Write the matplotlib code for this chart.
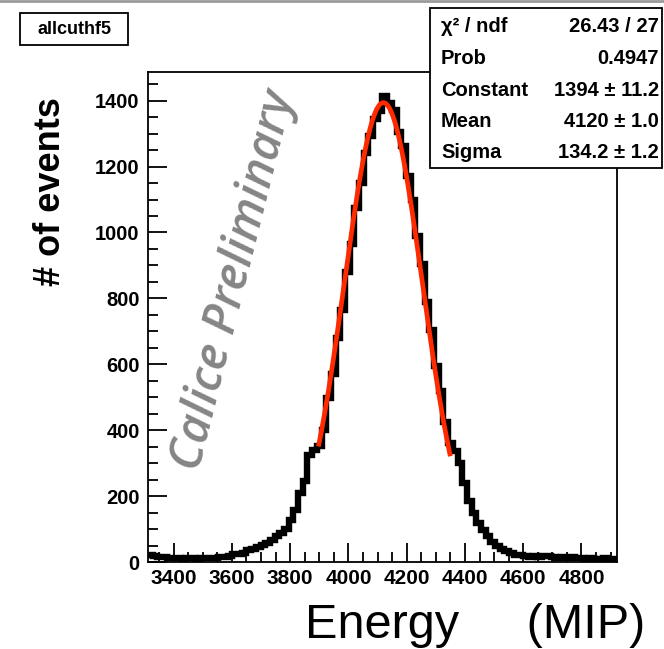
import numpy as np
import matplotlib
matplotlib.use("Agg")
import matplotlib.pyplot as plt
from matplotlib.patches import Rectangle
from matplotlib.lines import Line2D
from matplotlib.ticker import MultipleLocator

# histogram: 100 bins between x_lo and x_hi (MIP)
x_lo, x_hi = 3312, 4922
counts = [
    20, 18, 15, 14, 12, 11, 12, 10, 11, 12,
    10, 11, 12, 13, 12, 14, 15, 18, 24, 25,
    28, 36, 38, 45, 52, 58, 66, 80, 88, 100,
    128, 158, 210, 245, 325, 340, 352, 402, 498, 570,
    680, 765, 880, 965, 1075, 1150, 1240, 1292, 1345, 1368,
    1415, 1392, 1372, 1305, 1262, 1170, 1100, 990, 905, 790,
    705, 596, 518, 425, 360, 338, 300, 240, 185, 150,
    118, 98, 80, 62, 50, 38, 32, 27, 22, 20,
    18, 16, 17, 15, 18, 17, 14, 13, 15, 12,
    14, 13, 11, 10, 12, 10, 9, 11, 10, 9,
]

# gaussian fit result
fit_const, fit_mean, fit_sigma = 1394, 4120, 134.2
fit_lo, fit_hi = 3897, 4350

stat_labels = ["\u03c7\u00b2 / ndf", "Prob", "Constant", "Mean", "Sigma"]
stat_values = ["26.43 / 27", "0.4947", "1394 \u00b1 11.2", "4120 \u00b1 1.0", "134.2 \u00b1 1.2"]

hist_name = "allcuthf5"
y_max = 1487

W, H = 664, 649
fig = plt.figure(figsize=(W / 100, H / 100), dpi=100)
plt.rcParams['font.family'] = ['Liberation Sans', 'DejaVu Sans']


def fx(px):
    return px / W


def fy(py):
    return 1 - py / H


ax = fig.add_axes([fx(148), fy(562), fx(617) - fx(148), fy(72) - fy(562)])

edges = np.linspace(x_lo, x_hi, len(counts) + 1)
ax.stairs(counts, edges, color="black", lw=4.6, baseline=None)

xf = np.linspace(fit_lo, fit_hi, 300)
ax.plot(xf, fit_const * np.exp(-0.5 * ((xf - fit_mean) / fit_sigma) ** 2),
        color="#ff2a00", lw=3.4, solid_capstyle="butt")

ax.set_xlim(x_lo, x_hi)
ax.set_ylim(0, y_max)
ax.xaxis.set_major_locator(MultipleLocator(200))
ax.xaxis.set_minor_locator(MultipleLocator(50))
ax.yaxis.set_major_locator(MultipleLocator(200))
ax.yaxis.set_minor_locator(MultipleLocator(50))
ax.tick_params(which="both", direction="in", width=1.3, labelsize=14.5)
ax.tick_params(which="major", length=14)
ax.tick_params(which="minor", length=7)
ax.tick_params(axis="y", pad=6)
ax.tick_params(axis="x", pad=5, labelsize=15)
for lab in ax.get_xticklabels() + ax.get_yticklabels():
    lab.set_fontweight("bold")
for sp in ax.spines.values():
    sp.set_linewidth(1.3)

ax.text(0.185, 0.575, "Calice Preliminary", transform=ax.transAxes,
        rotation=76, ha="center", va="center", color="#858585",
        fontsize=34, family=["Open Sans", "DejaVu Sans"], style="italic",
        weight="semibold")

fig.text(fx(50), fy(192), "# of events", rotation=90, ha="center", va="center",
         fontsize=26, fontweight="bold")
fig.text(fx(645), fy(626), "Energy     (MIP)", ha="right", va="center", fontsize=35)

# histogram name box
fig.add_artist(Rectangle((fx(20), fy(45)), fx(128) - fx(20), fy(13) - fy(45),
                         transform=fig.transFigure, fc="white", ec="black", lw=1.3))
fig.text(fx(74), fy(29), hist_name, ha="center", va="center", fontsize=13, fontweight="bold")

# stats box
fig.add_artist(Rectangle((fx(430), fy(168)), fx(662) - fx(430), fy(8) - fy(168),
                         transform=fig.transFigure, fc="white", ec="black", lw=1.3))
for i, (lab, val) in enumerate(zip(stat_labels, stat_values)):
    yy = fy(27 + 31.5 * i)
    fig.text(fx(441), yy, lab, ha="left", va="center", fontsize=14.5, fontweight="bold")
    fig.text(fx(659), yy, val, ha="right", va="center", fontsize=14.5, fontweight="bold")

fig.add_artist(Line2D([0, 1], [fy(1), fy(1)], transform=fig.transFigure, color="#9a9a9a", lw=2))

fig.savefig("out.png", dpi=100)
